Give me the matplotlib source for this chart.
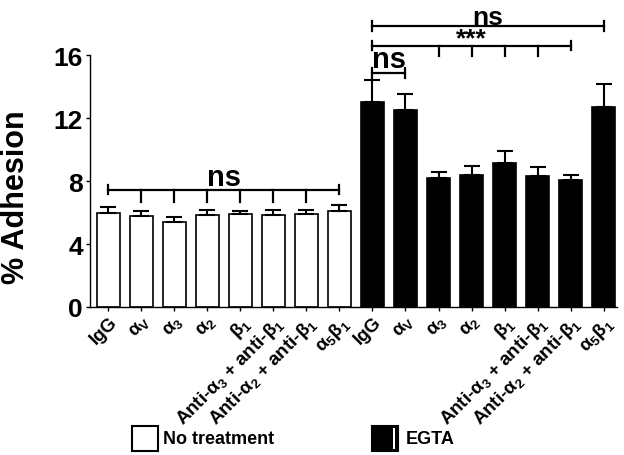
import matplotlib
matplotlib.use('Agg')
import matplotlib.pyplot as plt
from matplotlib.patches import Rectangle

plt.rcParams['font.family'] = ['Liberation Sans', 'DejaVu Sans']
plt.rcParams['font.weight'] = 'bold'
plt.rcParams['mathtext.default'] = 'regular'

# data
labels = ['IgG', r'$\alpha_V$', r'$\alpha_3$', r'$\alpha_2$', r'$\beta_1$',
          r'Anti-$\alpha_3$ + anti-$\beta_1$', r'Anti-$\alpha_2$ + anti-$\beta_1$',
          r'$\alpha_5\beta_1$']
no_treat = [6.0, 5.8, 5.42, 5.82, 5.88, 5.86, 5.93, 6.1]
no_treat_err = [0.38, 0.32, 0.29, 0.32, 0.24, 0.28, 0.25, 0.38]
egta = [13.0, 12.53, 8.17, 8.38, 9.12, 8.34, 8.06, 12.7]
egta_err = [1.41, 1.01, 0.40, 0.57, 0.77, 0.53, 0.34, 1.44]

fig = plt.figure(figsize=(6.24, 4.56), dpi=100)
ax = fig.add_axes([0.144, 0.3246, 0.845, 0.6754])

n = len(labels)
x_w = list(range(n))
x_b = list(range(n, 2 * n))

ax.bar(x_w, no_treat, width=0.7, color='white', edgecolor='black', linewidth=1.2, zorder=2)
ax.bar(x_b, egta, width=0.7, color='black', edgecolor='black', linewidth=1.2, zorder=2)
ax.errorbar(x_w, no_treat, yerr=[[0] * n, no_treat_err], fmt='none', ecolor='black',
            elinewidth=1.5, capsize=6, capthick=1.5, zorder=3)
ax.errorbar(x_b, egta, yerr=[[0] * n, egta_err], fmt='none', ecolor='black',
            elinewidth=1.5, capsize=6, capthick=1.5, zorder=3)

ax.set_xlim(-0.56, 15.41)
ax.set_ylim(0, 19.56)
ax.set_yticks([0, 4, 8, 12, 16])
ax.spines['left'].set_bounds(0, 16)
ax.spines['top'].set_visible(False)
ax.spines['right'].set_visible(False)
ax.spines['left'].set_linewidth(1.0)
ax.spines['bottom'].set_linewidth(1.0)
ax.tick_params(axis='y', labelsize=19, length=3, width=1, pad=2)
ax.tick_params(axis='x', length=3, width=1, pad=1)
ax.set_xticks(x_w + x_b)
ax.set_xticklabels(labels + labels, rotation=45, ha='right', va='top',
                   rotation_mode='anchor', fontsize=13.5, fontweight='bold')
for t in ax.get_yticklabels():
    t.set_fontweight('bold')
ax.set_ylabel('% Adhesion', fontsize=22, fontweight='bold', va='center')
ax.yaxis.set_label_coords(-0.14, 0.36)


def bracket(x0, x1, y, drops=(), drop_to=None, text=None, size=21, gap=0.28):
    ax.plot([x0, x1], [y, y], color='black', lw=1.6, zorder=4, clip_on=False)
    for xe in (x0, x1):
        ax.plot([xe, xe], [y - 0.3, y + 0.3], color='black', lw=1.6, zorder=4, clip_on=False)
    for xd in drops:
        ax.plot([xd, xd], [y, drop_to], color='black', lw=1.6, zorder=4, clip_on=False)
    if text:
        ax.text((x0 + x1) / 2, y + gap, text, ha='center', va='baseline',
                fontsize=size, fontweight='bold', clip_on=False)


bracket(0, 7, 7.45, drops=range(1, 7), drop_to=6.69, text='ns')
bracket(8, 15, 17.85, text='ns', size=19, gap=0.1)
bracket(8, 14, 16.6, drops=range(10, 14), drop_to=15.96, text='***', size=19, gap=0.0)
bracket(8, 9, 14.86, text='ns', gap=0.35)

# legend drawn as boxes under the plot
fig.patches.append(Rectangle((132 / 624, 1 - 452 / 456), 26 / 624, 25 / 456,
                             transform=fig.transFigure, facecolor='white',
                             edgecolor='black', lw=1.5))
fig.text(163 / 624, 1 - 440 / 456, 'No treatment', fontsize=13, fontweight='bold', va='center')
fig.patches.append(Rectangle((372 / 624, 1 - 452 / 456), 26 / 624, 25 / 456,
                             transform=fig.transFigure, facecolor='black',
                             edgecolor='black', lw=1.5))
fig.patches.append(Rectangle((393 / 624, 1 - 450 / 456), 1.5 / 624, 21 / 456,
                             transform=fig.transFigure, facecolor='white',
                             edgecolor='none'))
fig.text(406 / 624, 1 - 440 / 456, 'EGTA', fontsize=13, fontweight='bold', va='center')

fig.savefig('out.png', dpi=100)
